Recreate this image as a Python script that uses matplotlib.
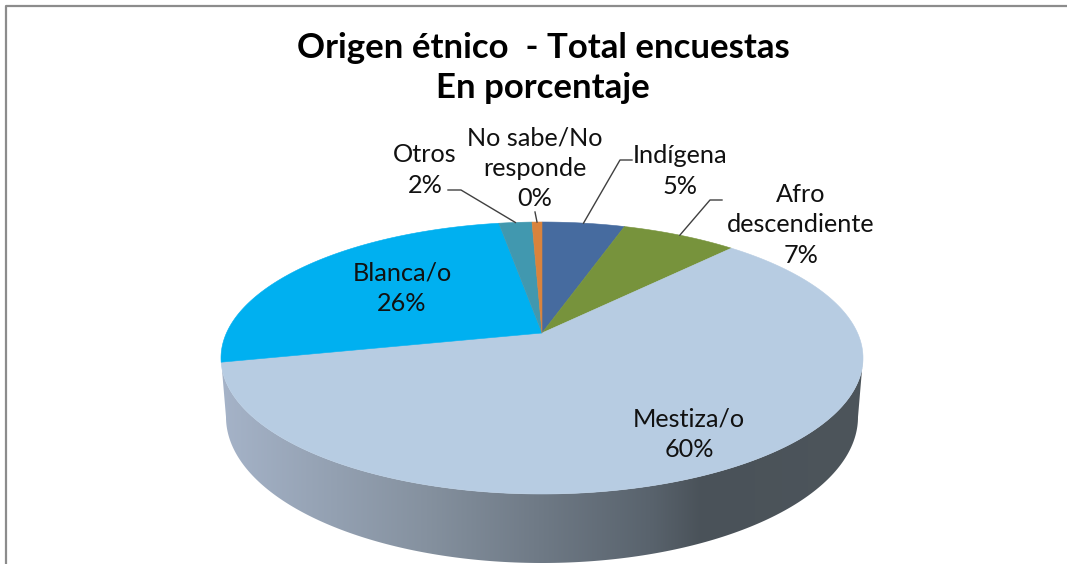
import numpy as np
import matplotlib
matplotlib.use('Agg')
import matplotlib.pyplot as plt
from matplotlib.colors import LinearSegmentedColormap
from matplotlib.patches import Polygon

# parts du camembert, dans le sens horaire depuis le haut
categorias = ["Indígena", "Afro\ndescendiente", "Mestiza/o", "Blanca/o", "Otros", "No sabe/No\nresponde"]
valores = [5, 7, 60, 26, 2, 0.6]
etiquetas_pct = ["5%", "7%", "60%", "26%", "2%", "0%"]
colores = ["#466b9f", "#77933c", "#b7cce2", "#00b0f0", "#4198af", "#d9833c"]

titulo = "Origen étnico  - Total encuestas\nEn porcentaje"

# position du texte (pixels) et coude de la ligne de rappel
pos_etiquetas = [(680, 171), (801, 225), (689, 434), (402, 288), (425, 170), (535, 168)]
codos = [(620, 160), (710, 200), None, None, (461, 190), (535, 212)]
fin_lineas = [(632, 160), (722, 200), None, None, (448, 190), None]

# geometrie de la vue en perspective
CX, CY = 542, 358
RX, RY = 321, 136
K = 0.83  # le centre de la tarte est decale vers le haut
CX_BAS, CY_BAS, RX_BAS, RY_BAS = 542, 417, 316, 146


def angle_vue(theta):
    # angle reel -> angle sur l'ellipse (projection)
    return 2 * np.arctan(K * np.tan(theta / 2))


def point_ellipse(phi):
    return CX + RX * np.sin(phi), CY - RY * np.cos(phi)


fig = plt.figure(figsize=(10.67, 5.64), dpi=100)
ax = fig.add_axes([0, 0, 1, 1])
ax.set_xlim(0, 1067)
ax.set_ylim(564, 0)
ax.axis('off')

plt.rcParams['font.family'] = ['Lato', 'DejaVu Sans']

# cadre du graphique (haut et gauche seulement)
ax.plot([5.5, 5.5, 1067], [564, 5.5, 5.5], color='#8c8c8c', lw=1.6, zorder=1)

# paroi laterale en degrade
phi_haut = np.linspace(np.pi / 2, 3 * np.pi / 2, 200)
x_haut, y_haut = point_ellipse(phi_haut)
x_bas = CX_BAS + RX_BAS * np.sin(phi_haut[::-1])
y_bas = CY_BAS - RY_BAS * np.cos(phi_haut[::-1])
paroi = Polygon(np.column_stack([np.r_[x_haut, x_bas], np.r_[y_haut, y_bas]]),
                closed=True, fc='none', ec='none')
ax.add_patch(paroi)
degrade = LinearSegmentedColormap.from_list('paroi', [
    (0.0, '#a5b3c8'), (0.32, '#85919f'), (0.67, '#59636d'), (0.75, '#4a5259'), (1.0, '#4d555b')])
im = ax.imshow(np.linspace(0, 1, 256)[None, :], cmap=degrade, aspect='auto',
               extent=[CX - RX, CX + RX, 564, 300], zorder=2)
im.set_clip_path(paroi)
ax.set_xlim(0, 1067)
ax.set_ylim(564, 0)

# dessus de la tarte
fracs = np.array(valores) / np.sum(valores)
bornes = np.r_[0, np.cumsum(fracs)] * 2 * np.pi
apex = point_ellipse(0)[0], CY - 25
medios = []
for i, color in enumerate(colores):
    # on coupe a pi pour rester sur la branche continue de la tangente
    t = np.linspace(bornes[i], bornes[i + 1], 300)
    phi = np.unwrap(angle_vue(t), period=2 * np.pi)
    x, y = point_ellipse(phi)
    ax.add_patch(Polygon(np.column_stack([np.r_[apex[0], x], np.r_[apex[1], y]]),
                         closed=True, fc=color, ec=color, lw=0.4, zorder=3))
    medios.append(point_ellipse(angle_vue((bornes[i] + bornes[i + 1]) / 2)))

# lignes de rappel
for medio, codo, fin in zip(medios, codos, fin_lineas):
    if codo is None:
        continue
    xs, ys = [medio[0], codo[0]], [medio[1], codo[1]]
    if fin is not None:
        xs.append(fin[0])
        ys.append(fin[1])
    ax.plot(xs, ys, color='#404040', lw=1.0, zorder=4)

# etiquettes
for cat, pct, (x, y) in zip(categorias, etiquetas_pct, pos_etiquetas):
    ax.text(x, y, f"{cat}\n{pct}", ha='center', va='center', fontsize=18.2,
            linespacing=1.39, color='#111111', zorder=5)

ax.text(543, 68, titulo, ha='center', va='center', fontsize=25, fontweight='bold',
        linespacing=1.3, color='black', zorder=5)

fig.savefig('out.png', dpi=100)
